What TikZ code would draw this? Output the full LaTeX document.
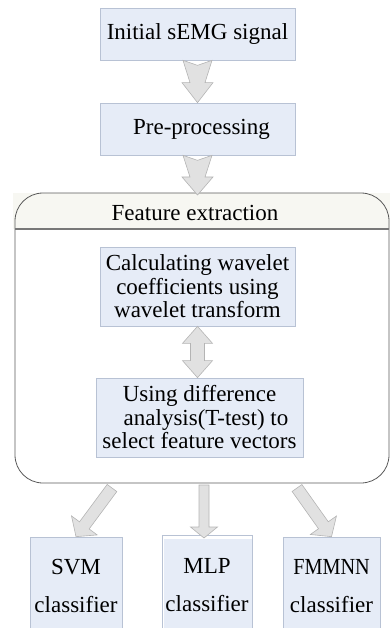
\documentclass[tikz,border=0pt]{standalone}
\usepackage{fontspec}
\setmainfont{Liberation Serif}
\usepackage{graphicx}
\usetikzlibrary{calc}
\definecolor{boxfill}{RGB}{230,236,247}
\definecolor{boxline}{RGB}{184,194,212}
\definecolor{arrfill}{RGB}{225,225,225}
\definecolor{arrline}{RGB}{180,180,180}
\definecolor{bandfill}{RGB}{247,247,242}
\definecolor{frameline}{RGB}{90,90,90}
\definecolor{sepline}{RGB}{120,120,120}
% #1 start, #2 end, #3 tail half, #4 body half at head, #5 head half, #6 head length, #7 notch depth
\newcommand\myarrow[7]{%
  \coordinate (tmpH) at ($(#2)!#6!(#1)$);
  \path[fatarrow] ($(#1)!#3!90:(#2)$) -- ($(#1)!#7!(#2)$) -- ($(#1)!#3!-90:(#2)$)
    -- ($(tmpH)!#4!-90:(#2)$) -- ($(tmpH)!#5!-90:(#2)$) -- (#2)
    -- ($(tmpH)!#5!90:(#2)$) -- ($(tmpH)!#4!90:(#2)$) -- cycle;
}
% #1 start, #2 end, #3 body half, #4 head half, #5 head length
\newcommand\mydblarrow[5]{%
  \coordinate (tmpHa) at ($(#1)!#5!(#2)$);
  \coordinate (tmpHb) at ($(#2)!#5!(#1)$);
  \path[fatarrow] (#1) -- ($(tmpHa)!#4!90:(#2)$) -- ($(tmpHa)!#3!90:(#2)$)
    -- ($(tmpHb)!#3!90:(#2)$) -- ($(tmpHb)!#4!90:(#2)$) -- (#2)
    -- ($(tmpHb)!#4!-90:(#2)$) -- ($(tmpHb)!#3!-90:(#2)$)
    -- ($(tmpHa)!#3!-90:(#2)$) -- ($(tmpHa)!#4!-90:(#2)$) -- cycle;
}
\begin{document}
\begin{tikzpicture}[x=1pt,y=-1pt,
  bigfont/.style={font=\fontsize{23}{23.5}\selectfont},
  procbox/.style={draw=boxline, fill=boxfill, line width=0.7pt, inner sep=0pt, align=center, bigfont, text=black},
  fatarrow/.style={fill=arrfill, draw=arrline, line width=0.6pt, line join=miter},
  frame/.style={draw=frameline, line width=0.8pt},
  sep/.style={draw=sepline, line width=1.6pt},
]
\useasboundingbox (0,0) rectangle (390,628);

% container
\fill[bandfill] (13,193) rectangle (390,229);
\draw[frame, rounded corners=28pt] (15,320) -- (15,193) -- (389,193) -- (389,483) -- (15,483) -- cycle;
\draw[sep] (15,229) -- (389,229);
\node[bigfont, inner sep=0pt] (fetitle) at (195,213) {Feature extraction};
\coordinate (fetop) at (197.5,195);

% boxes
\node[procbox, minimum width=195pt, minimum height=52pt] (n1) at (197.5,34) {Initial sEMG signal};
\node[procbox, minimum width=195pt, minimum height=52pt] (n2) at (197.5,129) {\hspace*{8pt}Pre-processing};
\node[procbox, minimum width=195pt, minimum height=79pt] (calc) at (197.5,286.5)
  {Calculating wavelet\\coefficients using\\wavelet transform};
\node[procbox, minimum width=207pt, minimum height=79pt] (use) at (199.5,417.5)
  {Using difference\\\hspace*{13pt}analysis(T-test) to\\select feature vectors};

\node[procbox, minimum width=92pt, minimum height=98pt] (svm) at (76,586) {SVM\\[14pt]classifier};
\node[procbox, fill=white, minimum width=90pt, minimum height=100pt,
  path picture={\fill[boxfill] ([xshift=2pt,yshift=-3.5pt]path picture bounding box.north west) rectangle (path picture bounding box.south east);}]
  (mlp) at (207,585) {MLP\\[14pt]classifier};
\node[procbox, minimum width=97pt, minimum height=98pt] (fmm) at (331.5,586) {\scalebox{0.88}[1]{FMMNN}\\[14pt]classifier};

% arrows
\myarrow{n1.south}{n2.north}{14.5pt}{7.5pt}{15.5pt}{20pt}{5pt}
\myarrow{n2.south}{fetop}{14.5pt}{7.5pt}{15.5pt}{18pt}{5pt}
\coordinate (dbend) at (calc.south |- use.north);
\mydblarrow{calc.south}{dbend}{7pt}{15pt}{17pt}

\coordinate (t1) at (112,488);
\coordinate (t2) at (204,485);
\coordinate (t3) at (297,488);
\coordinate (m2) at (204,538);
\myarrow{t1}{svm.north}{6pt}{6pt}{16pt}{14pt}{0pt}
\myarrow{t2}{m2}{5pt}{5pt}{13.5pt}{11pt}{0pt}
\myarrow{t3}{fmm.north}{6pt}{6pt}{16pt}{14pt}{0pt}
\end{tikzpicture}
\end{document}
